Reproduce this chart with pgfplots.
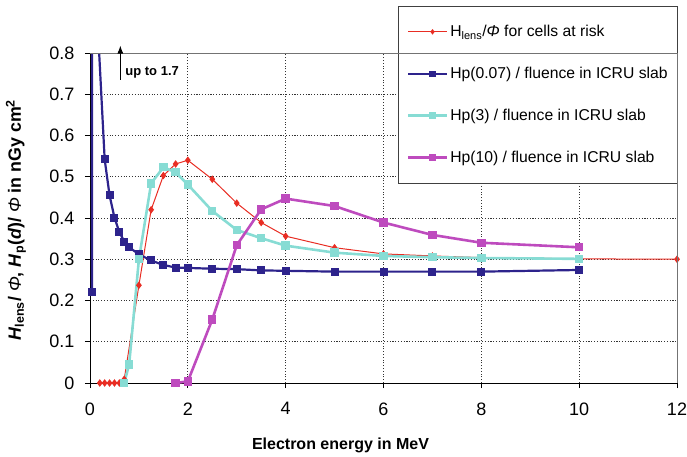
\documentclass[border=0pt]{standalone}
\usepackage{fontspec}
\setmainfont{Liberation Sans}
\usepackage{pgfplots}
\pgfplotsset{compat=1.18}
\usetikzlibrary{arrows.meta}
\definecolor{cred}{RGB}{232,45,35}
\definecolor{cnavy}{RGB}{45,35,140}
\definecolor{ccyan}{RGB}{135,220,212}
\definecolor{cmag}{RGB}{190,75,190}
\begin{document}
\begin{tikzpicture}[x=1pt,y=1pt]
\path[use as bounding box] (-90,-73) rectangle (597,383);
\begin{axis}[
  at={(0,0)}, anchor=south west,
  scale only axis, width=587pt, height=330pt,
  xmin=0, xmax=12, ymin=0, ymax=0.8,
  xtick={0,2,...,12}, ytick={0,0.1,...,0.8},
  axis lines=left, axis line style={-, black, line width=0.8pt},
  tick align=outside, major tick length=5pt,
  tick style={black, line width=0.8pt},
  grid=major,
  major grid style={black!80, line width=0.8pt, dash pattern=on 1.1pt off 1.7pt},
  /pgf/number format/assume math mode=true,
  yticklabel style={/pgf/number format/fixed, /pgf/number format/precision=1, font=\fontsize{18}{21}\selectfont, xshift=-7pt},
  xticklabel style={font=\fontsize{18}{21}\selectfont, yshift=-11pt},
  xlabel={\textbf{Electron energy in MeV}},
  xlabel style={at={(axis description cs:0.5,0)}, anchor=center, yshift=-62pt, xshift=-43pt, font=\fontsize{16}{19}\selectfont},
  ylabel={\textbf{\textit{H}\textsubscript{lens}/ \textmd{\textit{Φ}}, \textit{H}\textsubscript{p}(\textit{d})/ \textmd{\textit{Φ}} in nGy cm\textsuperscript{2}}},
  ylabel style={at={(axis description cs:0,0.5)}, anchor=center, yshift=74pt, xshift=-2pt, font=\fontsize{17.8}{21}\selectfont},
  legend style={at={(1,1)}, anchor=north east, xshift=1pt, yshift=47pt,
    draw=black!75, line width=0.8pt, fill=white, font=\fontsize{15.7}{18}\selectfont,
    inner xsep=8pt, inner ysep=17pt, row sep=25pt},
  legend cell align=left,
  legend image code/.code={\path (0pt,0pt) -- (39pt,0pt);\draw[#1,mark repeat=2,mark phase=2,mark size=2pt] plot coordinates {(15pt,0pt) (24.5pt,0pt) (34pt,0pt)};},
]
\addplot[cred, line width=1pt, mark=diamond*, mark size=3pt] coordinates {
(0.2,0)(0.3,0)(0.4,0)(0.5,0)(0.6,0)(0.7,0.009)(1.0,0.237)(1.25,0.42)(1.5,0.503)(1.75,0.531)(2,0.54)(2.5,0.494)(3,0.436)(3.5,0.389)(4,0.356)(5,0.328)(6,0.313)(7,0.308)(8,0.304)(10,0.301)(12,0.30)};
\addlegendentry{H\textsubscript{lens}/\textit{Φ}  for cells at risk}
\addplot[cnavy, line width=2.2pt, mark=square*, mark size=2.9pt] coordinates {
(0.04,0.22)(0.05,1.7)(0.1,1.0)(0.3,0.542)(0.4,0.455)(0.5,0.401)(0.6,0.366)(0.7,0.343)(0.8,0.329)(1.0,0.312)(1.25,0.297)(1.5,0.286)(1.75,0.280)(2,0.279)(2.5,0.277)(3,0.276)(3.5,0.273)(4,0.272)(5,0.270)(6,0.270)(7,0.270)(8,0.270)(10,0.274)};
\addlegendentry{Hp(0.07) / fluence in ICRU slab}
\addplot[ccyan, line width=2.6pt, mark=square*, mark size=2.9pt] coordinates {
(0.7,0)(0.8,0.045)(1.0,0.30)(1.25,0.484)(1.5,0.523)(1.75,0.511)(2,0.481)(2.5,0.417)(3,0.371)(3.5,0.351)(4,0.333)(5,0.316)(6,0.308)(7,0.305)(8,0.303)(10,0.301)};
\addlegendentry{Hp(3) / fluence in ICRU slab}
\addplot[cmag, line width=2.6pt, mark=square*, mark size=2.9pt] coordinates {
(1.75,0)(2,0.004)(2.5,0.154)(3,0.334)(3.5,0.421)(4,0.447)(5,0.429)(6,0.389)(7,0.359)(8,0.340)(10,0.329)};
\addlegendentry{Hp(10) / fluence in ICRU slab}
\coordinate (arrA) at (axis cs:0.62,0.735);
\coordinate (arrB) at (axis cs:0.62,0.818);
\coordinate (txt) at (axis cs:0.72,0.752);
\coordinate (tl) at (rel axis cs:0,1);
\coordinate (tr) at (rel axis cs:1,1);
\coordinate (br) at (rel axis cs:1,0);
\end{axis}
\draw[black!55, line width=0.8pt] (tl) -- (tr) -- (br);
\draw[black, line width=0.9pt, -{Latex[length=8pt,width=6pt]}] (arrA) -- (arrB);
\node[anchor=west, font=\fontsize{13}{15}\selectfont\bfseries, inner sep=0pt] at (txt) {up to 1.7};
\end{tikzpicture}
\end{document}
